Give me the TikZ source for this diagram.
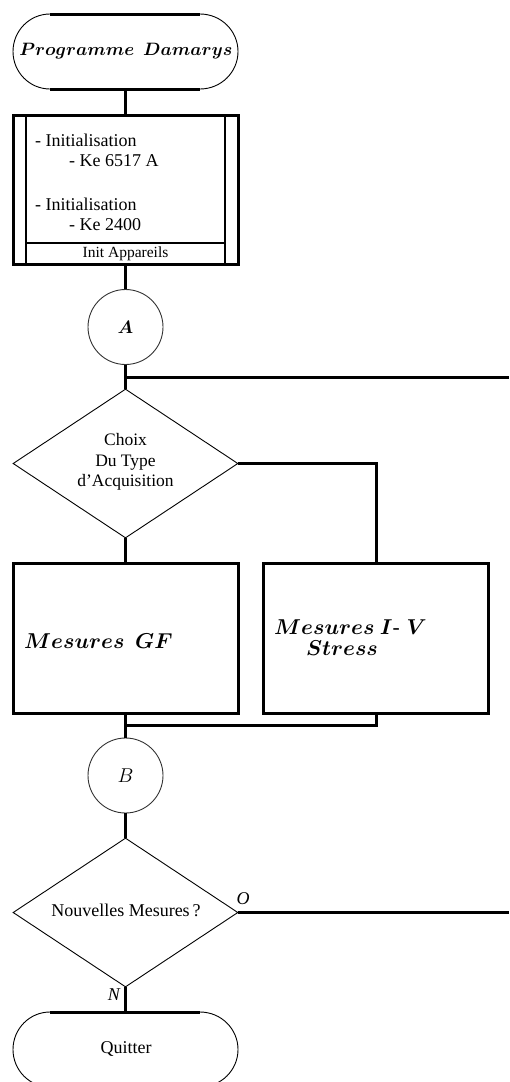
\RequirePackage{fix-cm}
\documentclass[tikz,border=0pt]{standalone}
\usepackage{fontspec}
\setmainfont{Liberation Serif}
\usetikzlibrary{shapes.geometric,calc}
\begin{document}
\begin{tikzpicture}[x=1pt,y=-1pt,
  conn/.style={line width=3pt},
  thin/.style={line width=0.9pt},
  txt/.style={font=\fontsize{18}{21}\selectfont, inner sep=0pt},
  bigm/.style={font=\fontsize{21.5}{24}\selectfont\boldmath, inner sep=0pt},
  circ/.style={circle, draw=black!80, line width=0.9pt, minimum size=75pt, inner sep=0pt},
  dia/.style={diamond, draw, line width=0.9pt, minimum width=225pt, minimum height=149pt, inner sep=0pt, aspect=1.51},
  blk/.style={draw, line width=3pt, minimum width=225pt, minimum height=150pt, inner sep=0pt}
]
\useasboundingbox (0,0) rectangle (509,1082);

% start terminal
\node[minimum width=225pt, minimum height=75pt, inner sep=0pt] (start) at (125.5,51.5) {};
\node[inner sep=0pt, font=\fontsize{17.9}{21}\selectfont\boldmath] (starttxt) at (126,51.5) {$Programme\ \ Damarys$};
\draw[conn] (50,14) -- (200,14) (50,89) -- (200,89);
\draw[thin] (50,14) arc[start angle=270, end angle=90, x radius=37, y radius=37.5];
\draw[thin] (200,14) arc[start angle=270, end angle=450, x radius=38, y radius=37.5];

% init box
\node[draw, line width=3pt, minimum width=225pt, minimum height=149pt, inner sep=0pt] (init) at (125.5,189.5) {};
\draw[line width=2.5pt] (26,115) -- (26,264) (225,115) -- (225,264) (26,243) -- (225,243);
\node[txt, anchor=west] (l1) at (35,140) {- Initialisation};
\node[txt, anchor=west] (l2) at (69,161) {- Ke 6517 A};
\node[txt, anchor=west] (l3) at (35,204) {- Initialisation};
\node[txt, anchor=west] (l4) at (69,225) {- Ke 2400};
\node[font=\fontsize{15.5}{18}\selectfont, inner sep=0pt] (ia) at (125.5,254) {Init Appareils};

% circle A
\node[circ, font=\fontsize{18}{20}\selectfont\boldmath] (A) at (125.5,327) {$A$};

% diamond 1
\node[dia] (d1) at (125.5,463.5) {};
\node[txt, align=center, font=\fontsize{17.5}{20.5}\selectfont] (d1t) at (125.5,462) {Choix\\Du Type\\d'Acquisition};

% boxes
\node[blk] (gf) at (125.5,638) {};
\node[bigm, anchor=west] (gft) at (24,641) {$Mesures\ \ GF$};
\node[blk] (iv) at (376,638) {};
\node[bigm, anchor=west] (ivt1) at (274,627) {$Mesures\ I\mbox{-}\;V$};
\node[bigm, anchor=west] (ivt2) at (306,648) {$Stress$};

% circle B
\node[circ, font=\fontsize{20}{22}\selectfont] (B) at (125.5,775.5) {$B$};

% diamond 2
\node[dia] (d2) at (125.5,912.5) {};
\node[txt] (d2t) at (126,910) {Nouvelles Mesures\,?};
\node[font=\fontsize{18}{20}\selectfont\itshape, inner sep=0pt] (O) at (243,899) {O};
\node[font=\fontsize{18}{20}\selectfont\itshape, inner sep=0pt] (N) at (114,995) {N};

% quit terminal
\node[minimum width=225pt, minimum height=75pt, inner sep=0pt] (quit) at (125.5,1049.5) {};
\node[txt] (quitt) at (126,1049) {Quitter};
\draw[conn] (50,1012) -- (200,1012) (50,1087) -- (200,1087);
\draw[thin] (50,1012) arc[start angle=270, end angle=90, x radius=37, y radius=37.5];
\draw[thin] (200,1012) arc[start angle=270, end angle=450, x radius=38, y radius=37.5];

% connectors
\coordinate (j1) at (125.5,377);
\coordinate (e1) at (509,377);
\coordinate (j2) at (125.5,725);
\coordinate (e2) at (509,912.5);
\draw[conn] (start.south) -- (init.north);
\draw[conn] (init.south) -- (A.north);
\draw[conn] (A.south) -- (d1.north);
\draw[conn] (j1) -- (e1);
\draw[conn] (d1.east) -| (iv.north);
\draw[conn] (d1.south) -- (gf.north);
\draw[conn] (gf.south) -- (B.north);
\draw[conn] (iv.south) |- (j2);
\draw[conn] (B.south) -- (d2.north);
\draw[conn] (d2.east) -- (e2);
\draw[conn] (d2.south) -- (quit.north);
\end{tikzpicture}
\end{document}
